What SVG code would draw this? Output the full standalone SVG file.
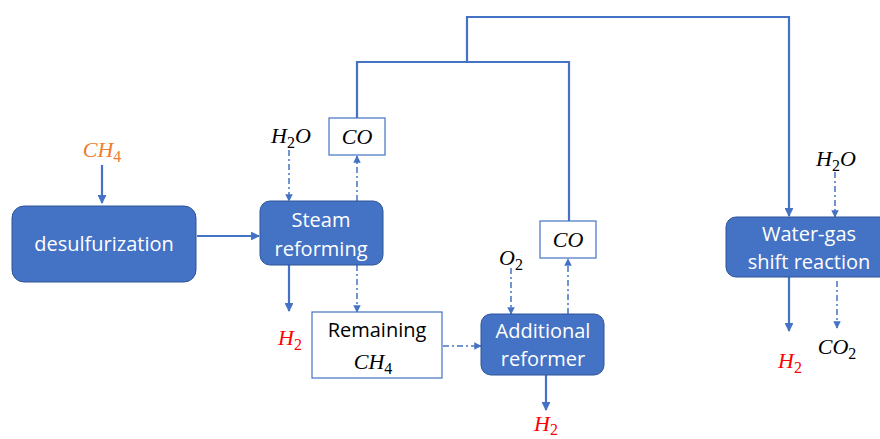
<svg xmlns="http://www.w3.org/2000/svg" width="880" height="439" viewBox="0 0 880 439">
<defs>
<marker id="ah" viewBox="0 0 10 10" refX="9" refY="5" markerWidth="4" markerHeight="4" orient="auto" markerUnits="strokeWidth">
<path d="M0,0 L10,5 L0,10 z" fill="#4472C4"/>
</marker>
<marker id="ahd" viewBox="0 0 10 10" refX="9" refY="5" markerWidth="5" markerHeight="5" orient="auto" markerUnits="strokeWidth">
<path d="M0,0 L10,5 L0,10 z" fill="#4472C4"/>
</marker>
</defs>
<style>
.proc{fill:#4472C4;stroke:#2F5597;stroke-width:1}
.box{fill:#fff;stroke:#4472C4;stroke-width:1.2}
.lbl{font-family:"Open Sans","Liberation Sans",sans-serif;font-size:20px;fill:#fff;text-anchor:middle}
.lblk{font-family:"Open Sans","Liberation Sans",sans-serif;font-size:20px;fill:#000;text-anchor:middle}
.m{font-family:"Liberation Serif","DejaVu Serif",serif;font-size:22px;font-style:italic;text-anchor:middle}
.sub{font-style:normal;font-size:16px}
.solid{fill:none;stroke:#4472C4;stroke-width:2.2}
.dd{fill:none;stroke:#4472C4;stroke-width:1.5;stroke-dasharray:6 3 2 3}
</style>
<g id="connectors">
<line class="solid" x1="102" y1="165" x2="102" y2="203" marker-end="url(#ah)"/>
<line class="solid" x1="197" y1="236" x2="259" y2="236" marker-end="url(#ah)"/>
<line class="dd" x1="289" y1="150" x2="289" y2="201" marker-end="url(#ahd)"/>
<line class="dd" x1="357" y1="201" x2="357" y2="156" marker-end="url(#ahd)"/>
<polyline class="solid" points="357,118 357,62 569,62 569,221"/>
<polyline class="solid" points="467,62 467,17 789,17 789,216" marker-end="url(#ah)"/>
<line class="solid" x1="289" y1="265" x2="289" y2="311" marker-end="url(#ah)"/>
<line class="dd" x1="357" y1="265" x2="357" y2="312" marker-end="url(#ahd)"/>
<line class="dd" x1="443" y1="346" x2="481" y2="346" marker-end="url(#ahd)"/>
<line class="dd" x1="511" y1="268" x2="511" y2="314" marker-end="url(#ahd)"/>
<line class="dd" x1="568" y1="314" x2="568" y2="259" marker-end="url(#ahd)"/>
<line class="solid" x1="546" y1="375" x2="546" y2="410" marker-end="url(#ah)"/>
<line class="dd" x1="835" y1="172" x2="835" y2="217" marker-end="url(#ahd)"/>
<line class="solid" x1="789" y1="277" x2="789" y2="331" marker-end="url(#ah)"/>
<line class="dd" x1="837" y1="281" x2="837" y2="328" marker-end="url(#ahd)"/>
</g>
<g id="desulfurization">
<rect class="proc" x="12" y="206" width="184" height="76" rx="12"/>
<text class="lbl" x="104" y="251">desulfurization</text>
</g>
<g id="steam-reforming">
<rect class="proc" x="260" y="201" width="123" height="64" rx="10"/>
<text class="lbl" x="321" y="227">Steam</text>
<text class="lbl" x="321" y="256">reforming</text>
</g>
<g id="co-1">
<rect class="box" x="329" y="118" width="56" height="37"/>
<text class="m" x="357" y="144" fill="#000">CO</text>
</g>
<g id="remaining-ch4">
<rect class="box" x="312" y="312" width="130" height="66"/>
<text class="lblk" x="377" y="337">Remaining</text>
<text class="m" x="373" y="369" fill="#000">CH<tspan class="sub" dy="5">4</tspan></text>
</g>
<g id="additional-reformer">
<rect class="proc" x="481" y="314" width="123" height="61" rx="10"/>
<text class="lbl" x="543" y="338">Additional</text>
<text class="lbl" x="543" y="366">reformer</text>
</g>
<g id="co-2">
<rect class="box" x="540" y="221" width="56" height="37"/>
<text class="m" x="568" y="247" fill="#000">CO</text>
</g>
<g id="water-gas-shift">
<rect class="proc" x="726" y="217" width="166" height="60" rx="10"/>
<text class="lbl" x="809" y="241">Water-gas</text>
<text class="lbl" x="809" y="269">shift reaction</text>
</g>
<g id="labels">
<text class="m" x="102" y="157" fill="#ED7D31">CH<tspan class="sub" dy="5">4</tspan></text>
<text class="m" x="291" y="143" fill="#000">H<tspan class="sub" dy="5">2</tspan><tspan dy="-5">O</tspan></text>
<text class="m" x="290" y="345" fill="#FF0000">H<tspan class="sub" dy="5">2</tspan></text>
<text class="m" x="511" y="265" fill="#000">O<tspan class="sub" dy="5">2</tspan></text>
<text class="m" x="546" y="431" fill="#FF0000">H<tspan class="sub" dy="4">2</tspan></text>
<text class="m" x="836" y="166" fill="#000">H<tspan class="sub" dy="5">2</tspan><tspan dy="-5">O</tspan></text>
<text class="m" x="790" y="368" fill="#FF0000">H<tspan class="sub" dy="5">2</tspan></text>
<text class="m" x="837" y="354" fill="#000">CO<tspan class="sub" dy="5">2</tspan></text>
</g>
</svg>
